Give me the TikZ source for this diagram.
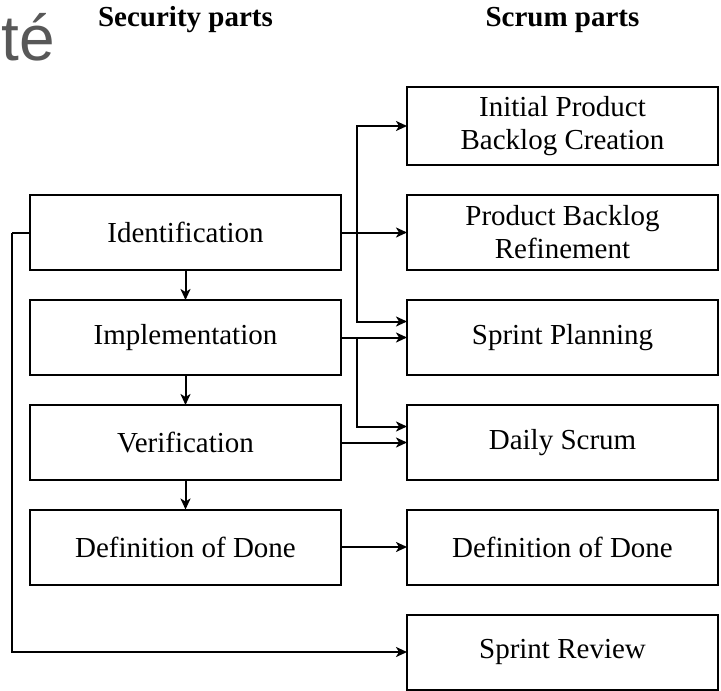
\documentclass[tikz,border=0pt]{standalone}
\usepackage{fontspec}
\setmainfont{Liberation Serif}
\newfontfamily\artsans{Liberation Sans}
\usetikzlibrary{arrows.meta}
\definecolor{artgray}{RGB}{88,88,88}
\tikzset{
  boxnode/.style={draw, line width=1pt, minimum width=155.5pt, minimum height=37.5pt,
    inner sep=2pt, outer sep=0pt, align=center, font=\fontsize{14.5}{16.5}\selectfont},
  titlenode/.style={anchor=base, inner sep=0pt, font=\fontsize{14.5}{16.5}\selectfont\bfseries},
  conn/.style={line width=1pt, -{Stealth[length=5.5pt,width=5pt,inset=1.5pt]}},
  plainconn/.style={line width=1pt}
}
\begin{document}
\begin{tikzpicture}[x=0.5pt,y=-0.5pt]
\useasboundingbox (0,0) rectangle (721,690);
% stray text
\node[anchor=base west, inner sep=0pt, text=artgray, font=\artsans\fontsize{32}{34}\selectfont] (art) at (1,61) {té};
% titles
\node[titlenode] (tsec) at (185.5,27) {Security parts};
\node[titlenode] (tscr) at (562.5,27) {Scrum parts};
% left column
\node[boxnode] (ident) at (185.5,232.5) {Identification};
\node[boxnode] (impl)  at (185.5,337.5) {Implementation};
\node[boxnode] (verif) at (185.5,442.5) {Verification};
\node[boxnode] (dodl)  at (185.5,547)   {Definition of Done};
% right column
\node[boxnode, minimum height=39pt] (ipbc) at (562.5,126) {Initial Product\\Backlog Creation};
\node[boxnode] (pbr)  at (562.5,232.5) {Product Backlog\\Refinement};
\node[boxnode] (sp)   at (562.5,337.5) {Sprint Planning};
\node[boxnode] (ds)   at (562.5,442.5) {Daily Scrum};
\node[boxnode] (dodr) at (562.5,547)   {Definition of Done};
\node[boxnode] (sr)   at (562.5,652)   {Sprint Review};
% junctions
\coordinate (j1) at (357,232.5);
\coordinate (j2) at (357,337.5);
\coordinate (lft) at (12,232.5);
% vertical flow
\draw[conn] (ident) -- (impl);
\draw[conn] (impl) -- (verif);
\draw[conn] (verif) -- (dodl);
% identification links
\draw[conn] (ident.east) -- (pbr.west);
\draw[conn] (j1) |- (ipbc.west);
\draw[conn] (j1) |- ([yshift=8pt]sp.west);
% implementation links
\draw[conn] (impl.east) -- (sp.west);
\draw[conn] (j2) |- ([yshift=8pt]ds.west);
% verification
\draw[conn] (verif.east) -- (ds.west);
% definition of done
\draw[conn] (dodl.east) -- (dodr.west);
% sprint review
\draw[plainconn] (ident.west) -- (lft);
\draw[conn] (lft) |- (sr.west);
\end{tikzpicture}
\end{document}
